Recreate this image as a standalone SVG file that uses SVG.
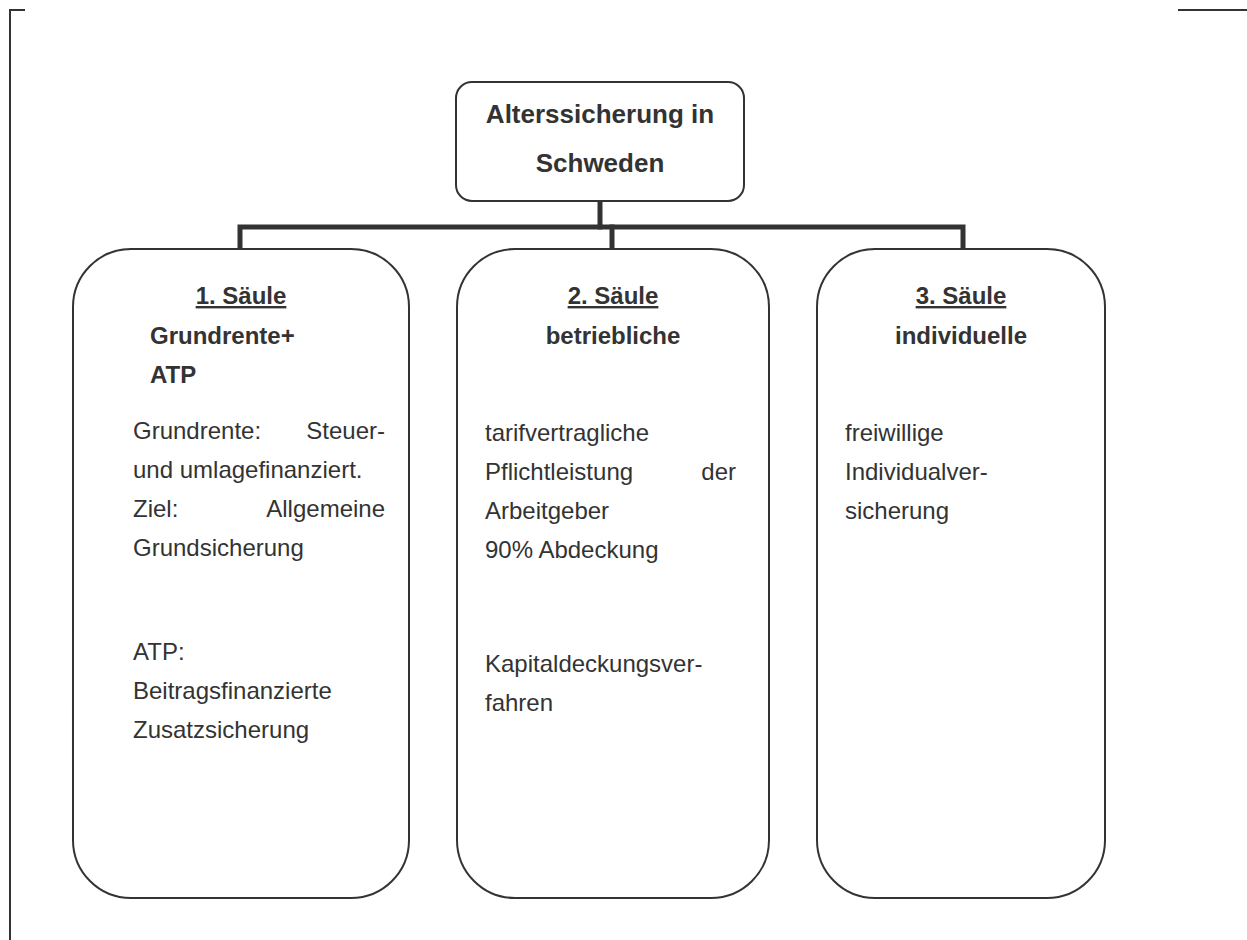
<svg xmlns="http://www.w3.org/2000/svg" width="1247" height="940" viewBox="0 0 1247 940">
<style>
.frame{fill:none;stroke:#333;stroke-width:2}
.box{fill:#fff;stroke:#333;stroke-width:2}
.conn{fill:none;stroke:#333;stroke-width:5;stroke-linecap:square}
text{font-family:"Liberation Sans",Arial,sans-serif;fill:#333;font-size:24px}
.b{font-weight:bold}
.t{font-size:26px;font-weight:bold}
.u{text-decoration:underline}
.m{text-anchor:middle}
.e{text-anchor:end}
</style>
<rect width="1247" height="940" fill="#fff"/>
<g id="frame">
<polyline class="frame" points="25,10 10,10 10,940"/>
<line class="frame" x1="1178" y1="10" x2="1247" y2="10"/>
</g>
<g id="connectors">
<line class="conn" x1="600" y1="201" x2="600" y2="227"/>
<polyline class="conn" points="240,249 240,227 963,227 963,249"/>
<line class="conn" x1="612" y1="227" x2="612" y2="249"/>
</g>
<g id="root">
<rect class="box" x="456" y="82" width="288" height="119" rx="16"/>
<text class="t m" x="600" y="123">Alterssicherung in</text>
<text class="t m" x="600" y="172">Schweden</text>
</g>
<g id="saeule1">
<rect class="box" x="73" y="249" width="336" height="649" rx="58"/>
<text class="b m u" x="241" y="304">1. Säule</text>
<text class="b" x="150" y="344">Grundrente+</text>
<text class="b" x="150" y="383">ATP</text>
<text y="439"><tspan x="133">Grundrente:</tspan><tspan class="e" x="385">Steuer-</tspan></text>
<text x="133" y="478">und umlagefinanziert.</text>
<text y="517"><tspan x="133">Ziel:</tspan><tspan class="e" x="385">Allgemeine</tspan></text>
<text x="133" y="556">Grundsicherung</text>
<text x="133" y="660">ATP:</text>
<text x="133" y="699">Beitragsfinanzierte</text>
<text x="133" y="738">Zusatzsicherung</text>
</g>
<g id="saeule2">
<rect class="box" x="457" y="249" width="312" height="649" rx="58"/>
<text class="b m u" x="613" y="304">2. Säule</text>
<text class="b m" x="613" y="344">betriebliche</text>
<text x="485" y="441">tarifvertragliche</text>
<text y="480"><tspan x="485">Pflichtleistung</tspan><tspan class="e" x="736">der</tspan></text>
<text x="485" y="519">Arbeitgeber</text>
<text x="485" y="558">90% Abdeckung</text>
<text x="485" y="672">Kapitaldeckungsver-</text>
<text x="485" y="711">fahren</text>
</g>
<g id="saeule3">
<rect class="box" x="817" y="249" width="288" height="649" rx="58"/>
<text class="b m u" x="961" y="304">3. Säule</text>
<text class="b m" x="961" y="344">individuelle</text>
<text x="845" y="441">freiwillige</text>
<text x="845" y="480">Individualver-</text>
<text x="845" y="519">sicherung</text>
</g>
</svg>
